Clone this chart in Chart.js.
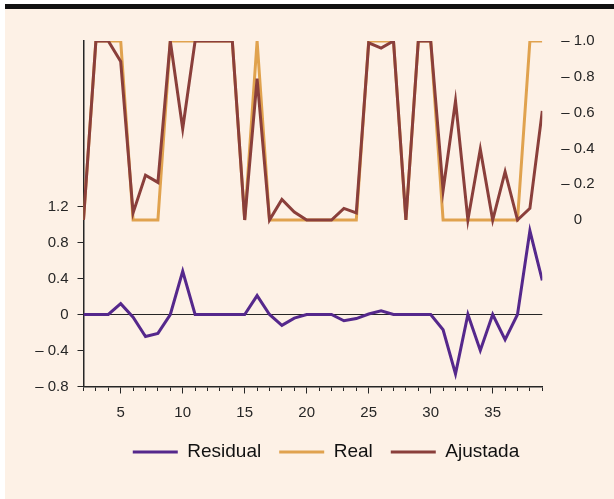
<!DOCTYPE html>
<html>
<head>
<meta charset="utf-8">
<script src="https://cdn.jsdelivr.net/npm/chart.js@4.4.1/dist/chart.umd.min.js"></script>
<style>
  html, body { margin: 0; padding: 0; background: #fff; overflow: hidden; }
  #bar { position: absolute; left: 5px; top: 4px; width: 609px; height: 5px; background: #111; }
  #panel { position: absolute; left: 5px; top: 9px; width: 609px; height: 490px; background: #fdf1e6; overflow: hidden; }
  #chart { position: absolute; left: 0; top: 0; }
</style>
</head>
<body>
<div id="bar"></div>
<div id="panel"><canvas id="chart" width="626" height="490"></canvas></div>
<script>
// periods on the x axis
const periods = [2, 3, 4, 5, 6, 7, 8, 9, 10, 11, 12, 13, 14, 15, 16, 17, 18, 19, 20,
  21, 22, 23, 24, 25, 26, 27, 28, 29, 30, 31, 32, 33, 34, 35, 36, 37, 38, 39];

// left axis: residual
const residual = [0, 0, 0, 0.12, -0.03, -0.245, -0.21, 0, 0.48, 0, 0, 0, 0, 0, 0.21, 0,
  -0.12, -0.04, 0, 0, 0, -0.07, -0.045, 0.005, 0.04, 0, 0, 0, 0, -0.17, -0.66, 0,
  -0.4, 0, -0.28, 0, 0.93, 0.38];

// right axis: real and fitted
const real = [0, 1, 1, 1, 0, 0, 0, 1, 1, 1, 1, 1, 1, 0, 1, 0, 0, 0, 0, 0, 0, 0, 0,
  1, 1, 1, 0, 1, 1, 0, 0, 0, 0, 0, 0, 0, 1, 1];
const ajustada = [0, 1, 1, 0.885, 0.04, 0.25, 0.21, 1, 0.51, 1, 1, 1, 1, 0, 0.79, 0,
  0.115, 0.045, 0, 0, 0, 0.065, 0.04, 0.99, 0.96, 1, 0, 1, 1, 0.165, 0.665, 0,
  0.395, 0, 0.27, 0, 0.065, 0.61];

const leftTicks = [-0.8, -0.4, 0, 0.4, 0.8, 1.2];
const rightTicks = [0, 0.2, 0.4, 0.6, 0.8, 1.0];
const xLabels = [5, 10, 15, 20, 25, 30, 35];

const ink = '#262626';
Chart.defaults.font.family = '"Liberation Sans", Arial, sans-serif';
Chart.defaults.color = ink;

function pts(values) {
  return periods.map((p, i) => ({ x: p, y: values[i] }));
}

function fmtLeft(v) {
  if (v === 0) return '0';
  if (v < 0) return '\u2013 ' + Math.abs(v).toFixed(1);
  return v.toFixed(1);
}

function fmtRight(v) {
  if (v === 0) return '\u2007 0';
  return '\u2013 ' + v.toFixed(1);
}

// canvas is a bit wider than the panel so the legend centres where the original does
const canvasW = 626;
const pad = { left: 24, right: 8, top: 32, bottom: 27.5 };
const area = { left: 78.5, right: 537.3 };

let ctx = document.getElementById('chart').getContext('2d');
let chart = new Chart(ctx, {
  type: 'line',
  data: {
    datasets: [
      { label: 'Residual', data: pts(residual), yAxisID: 'y', borderColor: '#55288c', borderWidth: 3, order: 0 },
      { label: 'Real', data: pts(real), yAxisID: 'y2', borderColor: '#e0a24e', borderWidth: 3, order: 2 },
      { label: 'Ajustada', data: pts(ajustada), yAxisID: 'y2', borderColor: '#8a3f3b', borderWidth: 3, order: 1 }
    ]
  },
  options: {
    responsive: false,
    animation: false,
    layout: { padding: pad },
    elements: {
      point: { radius: 0, hoverRadius: 0 },
      line: { tension: 0, borderJoinStyle: 'miter' }
    },
    plugins: {
      tooltip: { enabled: false },
      legend: {
        position: 'bottom',
        labels: {
          usePointStyle: true,
          pointStyle: 'line',
          pointStyleWidth: 45,
          padding: 18,
          color: '#111',
          font: { size: 19 },
          sort: (a, b) => a.datasetIndex - b.datasetIndex
        }
      }
    },
    scales: {
      x: {
        type: 'linear',
        position: 'bottom',
        min: 2,
        max: 39,
        afterBuildTicks: s => { s.ticks = periods.map(v => ({ value: v })); },
        afterFit: s => { s.height = 38; },
        border: { color: ink, width: 1.5 },
        grid: {
          drawOnChartArea: false,
          tickLength: 7,
          tickColor: ink,
          tickWidth: 1,
          tickBorderDash: c => (c.tick && xLabels.includes(c.tick.value)) ? [] : [3.5, 20]
        },
        ticks: {
          autoSkip: false,
          maxRotation: 0,
          padding: 10.5,
          font: { size: 15 },
          callback: v => xLabels.includes(v) ? String(v) : ''
        }
      },
      y: {
        position: 'left',
        min: -0.8,
        max: 3.039,
        afterBuildTicks: s => { s.ticks = leftTicks.map(v => ({ value: v })); },
        afterFit: s => { s.width = area.left - pad.left; },
        border: { color: ink, width: 1.5 },
        grid: {
          color: c => (c.tick && c.tick.value === 0) ? ink : 'rgba(0,0,0,0)',
          lineWidth: 1,
          tickLength: 6,
          tickColor: ink
        },
        ticks: { padding: 9, font: { size: 15 }, callback: fmtLeft }
      },
      y2: {
        position: 'right',
        min: -0.93,
        max: 1.0,
        afterBuildTicks: s => { s.ticks = rightTicks.map(v => ({ value: v })); },
        afterFit: s => { s.width = canvasW - pad.right - area.right; },
        border: { display: false },
        grid: { display: false, drawTicks: false },
        ticks: { padding: 19, font: { size: 15 }, callback: fmtRight }
      }
    }
  }
});
</script>
</body>
</html>
